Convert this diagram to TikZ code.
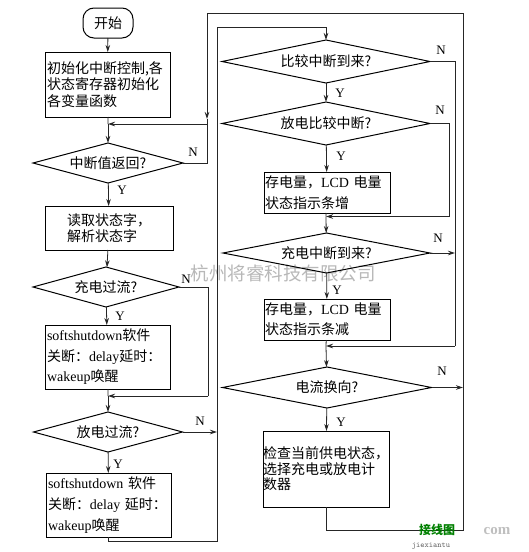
\documentclass[tikz,border=0pt]{standalone}
\usepackage{fontspec}
\setmainfont{Liberation Serif}
\newfontfamily\cjk{Noto Sans CJK SC}
\usetikzlibrary{shapes.geometric,arrows.meta}
\newcommand\latn[1]{{\rmfamily #1}}
\begin{document}
\begin{tikzpicture}[x=1pt,y=-1pt,
  every node/.style={outer sep=0pt},
  box/.style={draw, line width=1pt, rectangle, inner sep=0pt, font=\cjk\fontsize{14}{16.5}\selectfont},
  dia/.style={draw, line width=1pt, diamond, aspect=4, inner sep=0pt, font=\cjk\fontsize{14}{16}\selectfont},
  yn/.style={font=\fontsize{13}{13}\selectfont, inner sep=0pt},
  flow/.style={line width=0.8pt, draw=black!85},
  arr/.style={flow, -{Stealth[length=7pt,width=4.5pt]}},
  wm/.style={font=\cjk\fontsize{18.5}{18.5}\selectfont, text=black!28, inner sep=0pt}
]
\useasboundingbox (0,0) rectangle (528,552);
\fill[white] (0,0) rectangle (528,552);

% watermark
\node[wm] (wmark) at (283,273.5) {杭州将睿科技有限公司};

% left column
\node[box, rounded corners=11pt, minimum width=50pt, minimum height=30pt] (start) at (108,23) {开始};
\node[box, minimum width=125pt, minimum height=65pt, text width=121pt, align=left] (init) at (107.5,84.5) {初始化中断控制,各\\状态寄存器初始化\\各变量函数};
\coordinate (j1) at (108,124);
\node[dia, minimum width=150pt, minimum height=40pt] (d1) at (108,163) {中断值返回?};
\node[box, minimum width=128pt, minimum height=44pt, text width=84pt, align=left, font=\cjk\fontsize{14}{15.5}\selectfont] (read) at (109,228) {读取状态字，\\解析状态字};
\node[dia, minimum width=146pt, minimum height=40pt] (d2) at (106,287) {充电过流?};
\node[box, minimum width=125pt, minimum height=64pt, text width=121pt, align=left, font=\cjk\fontsize{14}{20.5}\selectfont] (ss1) at (107.5,357) {\latn{softshutdown}软件\\关断：\latn{delay}延时：\\\latn{wakeup}唤醒};
\coordinate (j2) at (108,396);
\node[dia, minimum width=149pt, minimum height=40pt] (d3) at (108,432) {放电过流?};
\node[box, minimum width=125pt, minimum height=64pt, text width=121pt, align=left, font=\cjk\fontsize{14}{21}\selectfont] (ss2) at (108.5,505) {\latn{softshutdown} 软件\\关断：\latn{delay} 延时：\\\latn{wakeup}唤醒};

% right column
\node[dia, minimum width=208pt, minimum height=43pt] (d4) at (326,61.5) {比较中断到来?};
\node[dia, minimum width=208pt, minimum height=43pt] (d5) at (326,123.5) {放电比较中断?};
\node[box, minimum width=126pt, minimum height=41pt, text width=124pt, align=left, font=\cjk\fontsize{14}{21}\selectfont] (b5) at (327,192.5) {存电量，\latn{LCD} 电量\\状态指示条增};
\coordinate (j3) at (326,216.5);
\node[dia, minimum width=207pt, minimum height=40pt] (d6) at (326.5,253) {充电中断到来?};
\node[box, minimum width=126pt, minimum height=41pt, text width=124pt, align=left, font=\cjk\fontsize{14}{20}\selectfont] (b6) at (327,319.5) {存电量，\latn{LCD} 电量\\状态指示条减};
\coordinate (j4) at (326,346);
\node[dia, minimum width=209pt, minimum height=41pt] (d7) at (327,387.5) {电流换向?};
\node[box, minimum width=126pt, minimum height=76pt, text width=126pt, align=left, font=\cjk\fontsize{14}{15.5}\selectfont] (b7) at (326,469) {检查当前供电状态，\\选择充电或放电计\\数器};

% routing coordinates
\coordinate (tA) at (207,124);
\coordinate (tAup) at (207,119);
\coordinate (topL) at (207,13);
\coordinate (botR) at (463,530);
\coordinate (botL) at (217,541);
\coordinate (topM) at (326,27);
\coordinate (j2r) at (208,396);
\coordinate (r1) at (455,346);
\coordinate (r2) at (449,216.5);

% left flow
\draw[arr] (start) -- (init);
\draw[flow] (init) -- (j1);
\draw[arr] (j1) -- (d1);
\draw[arr] (d1) -- (read);
\draw[arr] (read) -- (d2);
\draw[arr] (d2) -- (ss1);
\draw[flow] (ss1) -- (j2);
\draw[arr] (j2) -- (d3);
\draw[arr] (d3) -- (ss2);
\draw[flow] (d1.east) -| (tA);
\draw[arr] (tA) -- (j1);
\draw[flow] (d2.east) -| (j2r);
\draw[arr] (j2r) -- (j2);
\draw[arr] (d3.east) -- (d3.east -| botL);
\draw[arr] (ss2.south) |- (botL) |- (topM) -- (d4);

% right flow
\draw[arr] (d4) -- (d5);
\draw[arr] (d5) -- (b5);
\draw[flow] (b5) -- (j3);
\draw[arr] (j3) -- (d6);
\draw[arr] (d6) -- (b6);
\draw[flow] (b6) -- (j4);
\draw[arr] (j4) -- (d7);
\draw[arr] (d7) -- (b7);
\draw[flow] (d4.east) -| (r1);
\draw[arr] (r1) -- (j4);
\draw[flow] (d5.east) -| (r2);
\draw[arr] (r2) -- (j3);
\draw[arr] (d6.east) -- (d6.east -| r1);
\draw[arr] (d7.east) -- (d7.east -| botR);
\draw[arr] (b7.south) |- (botR) |- (topL) -- (tAup);
\draw[flow] (tAup) -- (tA);

% labels
\node[yn] (n1) at (193,152) {N};
\node[yn] (y1) at (122,190) {Y};
\node[yn] (n2) at (186,279.5) {N};
\node[yn] (y2) at (120,316) {Y};
\node[yn] (n3) at (200,421) {N};
\node[yn] (y3) at (118,464) {Y};
\node[yn] (n4) at (441,50) {N};
\node[yn] (y4) at (340,93) {Y};
\node[yn] (n5) at (440,110) {N};
\node[yn] (y5) at (341,156) {Y};
\node[yn] (n6) at (438,238) {N};
\node[yn] (y6) at (337,290.5) {Y};
\node[yn] (n7) at (442,371) {N};
\node[yn] (y7) at (341,422) {Y};

% logo
\node[font=\cjk\bfseries\fontsize{12}{12}\selectfont, text=green!50!black, inner sep=0pt] (logo1) at (437,530) {接线图};
\node[font=\fontsize{15}{15}\selectfont\bfseries, text=black!25, inner sep=0pt] (logo2) at (497,531) {com};
\node[font=\ttfamily\fontsize{8}{8}\selectfont, text=black!60, inner sep=0pt] (logo3) at (431,546) {jiexiantu};
\end{tikzpicture}
\end{document}
